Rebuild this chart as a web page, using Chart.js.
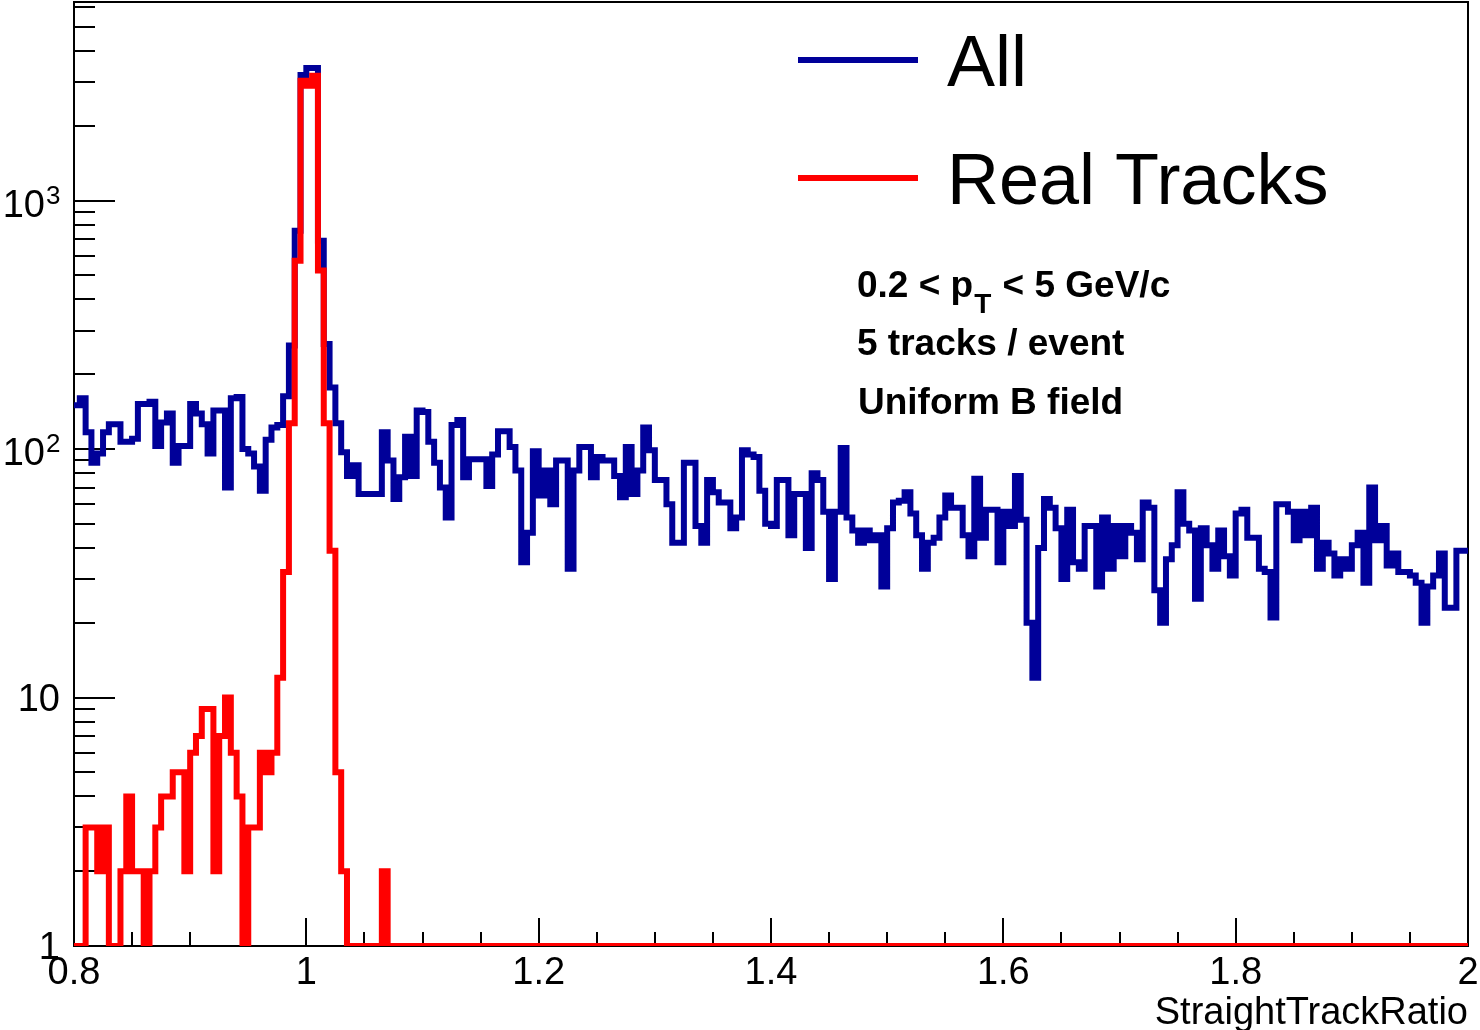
<!DOCTYPE html>
<html>
<head>
<meta charset="utf-8">
<script src="https://cdn.jsdelivr.net/npm/chart.js@4.4.0/dist/chart.umd.min.js"></script>
<style>
html,body{margin:0;padding:0;background:#fff;overflow:hidden}
canvas{display:block}
</style>
</head>
<body>
<canvas id="c" width="1480" height="1030"></canvas>
<script>
// ---- data ----
const xMin = 0.8, xMax = 2.0, binWidth = 0.005;
const yMin = 1, yMax = 6300;

const allCounts = [
150,160,117,88,96,117,126,126,107,107,
110,152,152,155,103,128,139,88,103,103,
152,139,126,96,143,143,70,160,162,100,
96,85,68,109,122,125,163,261,757,3200,
3420,3420,690,265,177,127,97,78,86,66,
66,66,66,117,90,63,77,112,78,143,
141,107,88,70,53,125,131,77,91,91,
91,71,95,118,118,102,82,35,46,98,
65,82,60,90,90,33,82,102,102,77,
93,90,90,78,64,102,66,82,122,99,
75,75,60,42,42,88,88,49,42,75,
67,61,61,48,53,99,95,93,68,50,
49,75,75,45,66,66,40,80,75,56,
30,56,101,53,47,42,47,43,45,28,
48,61,62,67,55,45,33,42,44,53,
65,58,58,45,37,76,44,57,57,35,
56,49,78,52,20,12,40,63,58,48,
30,57,35,33,49,49,28,53,33,49,
37,49,46,36,61,58,27,20,36,41,
67,50,47,25,48,41,33,47,37,31,
55,57,44,44,33,32,21,60,60,56,
43,56,45,58,33,42,38,31,36,33,
41,46,29,70,43,49,34,38,32,32,
31,29,20,28,31,38,23,23,39,39
];

const realCounts = [
0,0,3,3,2,3,0,0,2,4,
2,2,0,2,3,4,4,5,5,2,
6,7,9,9,2,7,10,6,4,0,
3,3,6,5,6,12,32,127,573,3036,
2897,3177,523,127,39,5,2,0,0,0,
0,0,0,2,0,0,0,0,0,0,
0,0,0,0,0,0,0,0,0,0,
0,0,0,0,0,0,0,0,0,0,
0,0,0,0,0,0,0,0,0,0,
0,0,0,0,0,0,0,0,0,0,
0,0,0,0,0,0,0,0,0,0,
0,0,0,0,0,0,0,0,0,0,
0,0,0,0,0,0,0,0,0,0,
0,0,0,0,0,0,0,0,0,0,
0,0,0,0,0,0,0,0,0,0,
0,0,0,0,0,0,0,0,0,0,
0,0,0,0,0,0,0,0,0,0,
0,0,0,0,0,0,0,0,0,0,
0,0,0,0,0,0,0,0,0,0,
0,0,0,0,0,0,0,0,0,0,
0,0,0,0,0,0,0,0,0,0,
0,0,0,0,0,0,0,0,0,0,
0,0,0,0,0,0,0,0,0,0,
0,0,0,0,0,0,0,0,0,0
];

const seriesNames = ['All', 'Real Tracks'];
const seriesColors = ['#000099', '#ff0000'];
const xTickValues = [0.8, 1.0, 1.2, 1.4, 1.6, 1.8, 2.0];
const xTickLabels = ['0.8', '1', '1.2', '1.4', '1.6', '1.8', '2'];
const yTickValues = [1, 10, 100, 1000];
const yTickBase = ['1', '10', '10', '10'];
const yTickExp = ['', '', '2', '3'];
const xTitle = 'StraightTrackRatio';
const noteLines = ['5 tracks / event', 'Uniform B field'];

// histogram outline points: one point per bin low edge, plus the final edge
function histPoints(counts) {
  const pts = counts.map((v, i) => ({ x: xMin + i * binWidth, y: Math.max(v, yMin) }));
  pts.push({ x: xMin + counts.length * binWidth, y: Math.max(counts[counts.length - 1], yMin) });
  return pts;
}

const FONT = '"Liberation Sans", Arial, Helvetica, sans-serif';

const rootAxes = {
  id: 'rootAxes',
  beforeDatasetsDraw(chart) {
    const ctx = chart.ctx, xa = chart.scales.x, ya = chart.scales.y, ca = chart.chartArea;
    ctx.save();
    ctx.strokeStyle = '#000';
    ctx.lineWidth = 2;
    ctx.strokeRect(ca.left, ca.top, ca.right - ca.left, ca.bottom - ca.top);
    ctx.beginPath();
    for (let i = 0; i <= 24; i++) {
      const v = xMin + i * 0.05;
      const px = Math.round(xa.getPixelForValue(v));
      const len = (i % 4 === 0) ? 28 : 14;
      ctx.moveTo(px, ca.bottom);
      ctx.lineTo(px, ca.bottom - len);
    }
    for (let d = 0; d < 4; d++) {
      for (let m = 1; m <= 9; m++) {
        const v = m * Math.pow(10, d);
        if (v > yMax) break;
        const py = Math.round(ya.getPixelForValue(v));
        const len = (m === 1) ? 41 : 21;
        ctx.moveTo(ca.left, py);
        ctx.lineTo(ca.left + len, py);
      }
    }
    ctx.stroke();
    ctx.fillStyle = '#000';
    ctx.font = '38px ' + FONT;
    ctx.textAlign = 'center';
    ctx.textBaseline = 'alphabetic';
    xTickValues.forEach((v, i) => {
      ctx.fillText(xTickLabels[i], xa.getPixelForValue(v), ca.bottom + 38);
    });
    yTickValues.forEach((v, i) => {
      const py = ya.getPixelForValue(v);
      if (yTickExp[i]) {
        ctx.font = '38px ' + FONT;
        ctx.textAlign = 'right';
        ctx.fillText(yTickBase[i], 45, py + 16);
        ctx.font = '26px ' + FONT;
        ctx.textAlign = 'left';
        ctx.fillText(yTickExp[i], 46, py + 3);
      } else {
        ctx.font = '38px ' + FONT;
        ctx.textAlign = 'right';
        ctx.fillText(yTickBase[i], 60, py + 13);
      }
    });
    ctx.font = '38px ' + FONT;
    ctx.textAlign = 'right';
    ctx.fillText(xTitle, ca.right, 1024);
    ctx.restore();
  },
  afterDraw(chart) {
    const ctx = chart.ctx;
    ctx.save();
    const legY = [60, 178];
    seriesNames.forEach((name, i) => {
      ctx.strokeStyle = seriesColors[i];
      ctx.lineWidth = 6;
      ctx.beginPath();
      ctx.moveTo(798, legY[i]);
      ctx.lineTo(918, legY[i]);
      ctx.stroke();
      ctx.fillStyle = '#000';
      ctx.font = '72px ' + FONT;
      ctx.textAlign = 'left';
      ctx.textBaseline = 'alphabetic';
      ctx.fillText(name, 947, legY[i] + 26);
    });
    ctx.fillStyle = '#000';
    ctx.textAlign = 'left';
    ctx.font = 'bold 37px ' + FONT;
    let x = 857;
    const t1 = '0.2 < p';
    ctx.fillText(t1, x, 297);
    x += ctx.measureText(t1).width;
    ctx.font = 'bold 28px ' + FONT;
    ctx.fillText('T', x + 1, 313);
    x += ctx.measureText('T').width + 2;
    ctx.font = 'bold 37px ' + FONT;
    ctx.fillText(' < 5 GeV/c', x, 297);
    ctx.fillText(noteLines[0], 857, 355);
    ctx.fillText(noteLines[1], 858, 414);
    ctx.restore();
  }
};

new Chart(document.getElementById('c').getContext('2d'), {
  type: 'line',
  data: {
    datasets: [
      { label: seriesNames[0], data: histPoints(allCounts), borderColor: seriesColors[0], borderWidth: 6,
        stepped: 'before', pointRadius: 0, fill: false, order: 2, borderJoinStyle: 'miter', borderCapStyle: 'butt' },
      { label: seriesNames[1], data: histPoints(realCounts), borderColor: seriesColors[1], borderWidth: 6,
        stepped: 'before', pointRadius: 0, fill: false, order: 1, borderJoinStyle: 'miter', borderCapStyle: 'butt' }
    ]
  },
  options: {
    responsive: false,
    animation: false,
    devicePixelRatio: 1,
    layout: { padding: { left: 74, top: 2, right: 12, bottom: 84 } },
    plugins: { legend: { display: false }, tooltip: { enabled: false } },
    scales: {
      x: { type: 'linear', min: xMin, max: xMax, display: false },
      y: { type: 'logarithmic', min: yMin, max: yMax, display: false }
    }
  },
  plugins: [rootAxes]
});
</script>
</body>
</html>
